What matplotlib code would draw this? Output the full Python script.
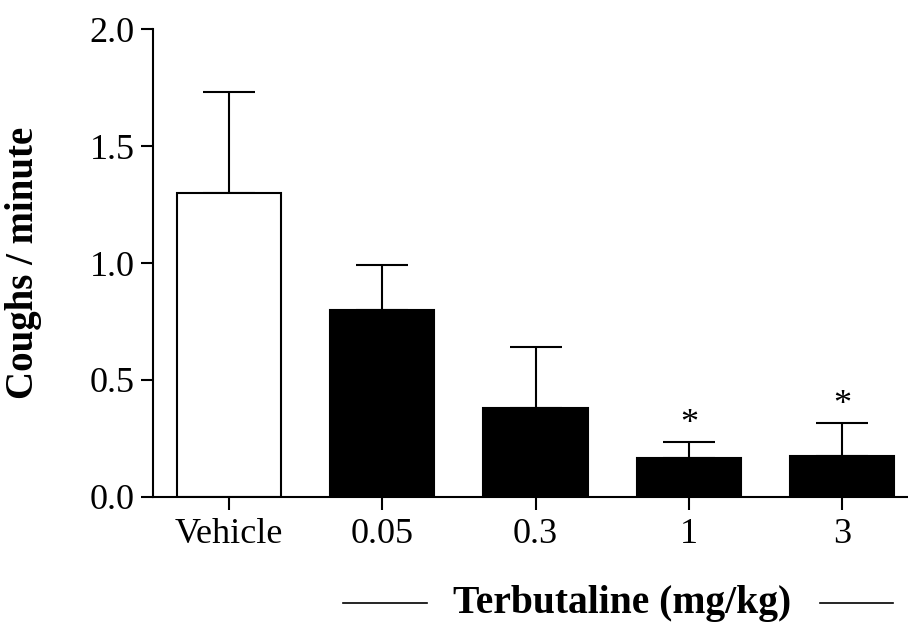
import matplotlib.pyplot as plt
import numpy as np
from matplotlib.lines import Line2D

groups = ["Vehicle", "0.05", "0.3", "1", "3"]
means = [1.30, 0.80, 0.38, 0.167, 0.175]
sems = [0.43, 0.19, 0.26, 0.068, 0.141]
colors = ["white", "black", "black", "black", "black"]
significant = [False, False, False, True, True]

plt.rcParams['font.family'] = ['Liberation Serif', 'DejaVu Serif']

fig = plt.figure(figsize=(9.08, 6.31), dpi=100)
ax = fig.add_axes([0.1685, 0.2124, 0.8315, 0.7416])

x = np.arange(len(groups))
ax.bar(x, means, 0.68, color=colors, edgecolor="black", linewidth=1.5, zorder=2)
ax.errorbar(x, means, yerr=[np.zeros(len(sems)), sems], fmt="none",
            ecolor="black", elinewidth=1.5, capsize=19, capthick=1.5, zorder=1)

for xi, m, s, sig in zip(x, means, sems, significant):
    if sig:
        ax.annotate("*", (xi, m + s), xytext=(0, 1), textcoords="offset points",
                    ha="center", va="bottom", fontsize=26)

ax.set_xlim(-0.496, 4.43)
ax.set_ylim(0, 2.0)
ax.set_yticks([0, 0.5, 1.0, 1.5, 2.0])
ax.set_yticklabels(["0.0", "0.5", "1.0", "1.5", "2.0"])
ax.set_xticks(x)
ax.set_xticklabels(groups)

for side in ["top", "right"]:
    ax.spines[side].set_visible(False)
for side in ["left", "bottom"]:
    ax.spines[side].set_linewidth(1.5)
ax.tick_params(axis="both", direction="out", length=9, width=1.5, labelsize=26)
ax.tick_params(axis="x", pad=6)
ax.tick_params(axis="y", pad=4)

ax.set_ylabel("Coughs / minute", fontsize=28, fontweight="bold")
ax.yaxis.set_label_coords(-0.147, 0.5)

# bracket label under the treatment groups
fig.text(0.685, 0.044, "Terbutaline (mg/kg)", ha="center", va="center",
         fontsize=28.5, fontweight="bold")
fig.add_artist(Line2D([0.378, 0.470], [0.044, 0.044], color="black", linewidth=1.2))
fig.add_artist(Line2D([0.903, 0.983], [0.044, 0.044], color="black", linewidth=1.2))

plt.savefig("out.png", dpi=100)
